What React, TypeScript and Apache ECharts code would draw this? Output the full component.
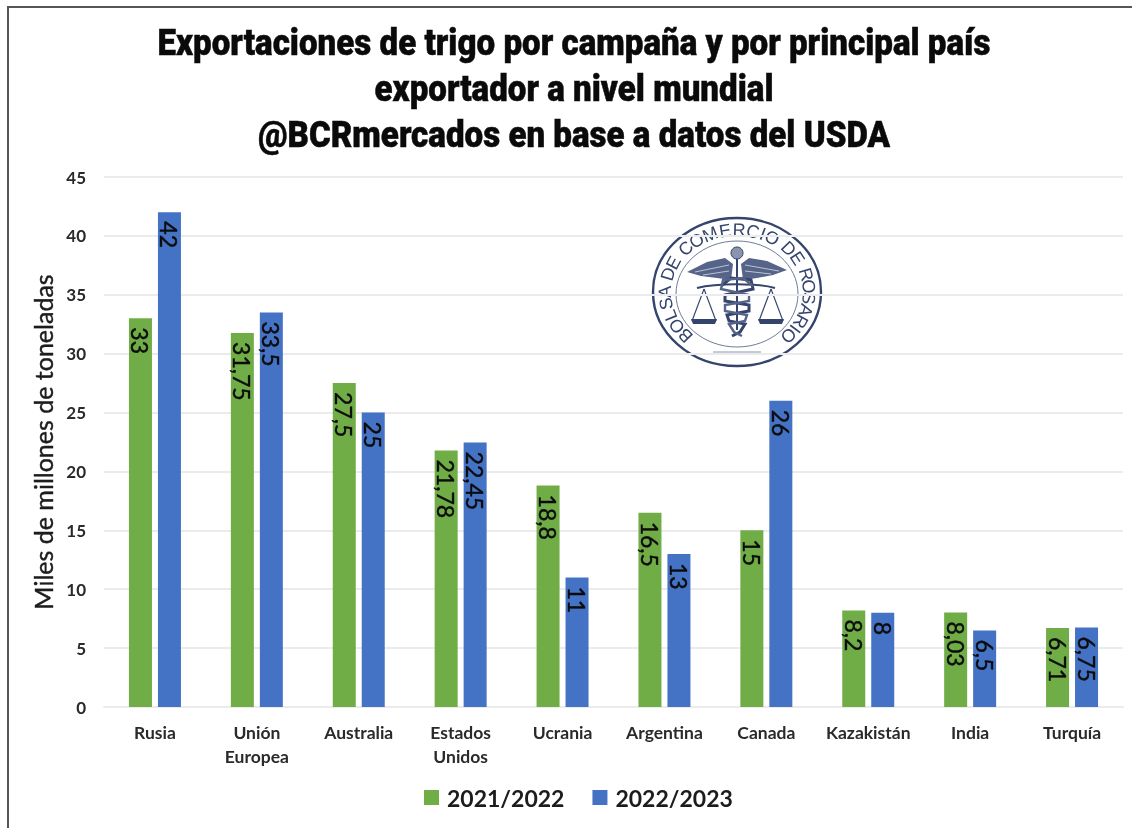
import React, { useEffect, useRef } from "react";
import * as echarts from "echarts";

const categories = ["Rusia", "Unión\nEuropea", "Australia", "Estados\nUnidos", "Ucrania", "Argentina", "Canada", "Kazakistán", "India", "Turquía"];
const series2122 = [33, 31.75, 27.5, 21.78, 18.8, 16.5, 15, 8.2, 8.03, 6.71];
const series2223 = [42, 33.5, 25, 22.45, 11, 13, 26, 8, 6.5, 6.75];
const titleLines = [
  "Exportaciones de trigo por campaña y por principal país",
  "exportador a nivel mundial",
  "@BCRmercados en base a datos del USDA",
];
const yAxisName = "Miles de millones de toneladas";
const sealText = "BOLSA DE COMERCIO DE ROSARIO";

const NAVY = "#34446c";
const WING = "#56648a";

function logoElements(): any[] {
  const els: any[] = [];
  const ln = (x1: number, y1: number, x2: number, y2: number, w = 1, c = NAVY) =>
    els.push({ type: "line", shape: { x1, y1, x2, y2 }, style: { stroke: c, lineWidth: w } });
  const poly = (points: number[][], fill = NAVY) =>
    els.push({ type: "polygon", shape: { points }, style: { fill } });
  els.push({ type: "ellipse", shape: { cx: 0, cy: 0, rx: 84, ry: 74 }, style: { fill: "transparent", stroke: NAVY, lineWidth: 2.4 } });
  els.push({ type: "ellipse", shape: { cx: 0, cy: 2, rx: 61, ry: 53 }, style: { fill: "transparent", stroke: "#6f7b98", lineWidth: 1 } });
  const chars = sealText.split("");
  const adv = chars.map((c) => (c === "I" ? 0.45 : c === " " ? 0.5 : c === "M" ? 1.2 : 1));
  const total = adv.reduce((a, b) => a + b, 0);
  let run = 0;
  chars.forEach((ch, i) => {
    const mid = run + adv[i] / 2;
    run += adv[i];
    const t = ((-140 + (280 * mid) / total) * Math.PI) / 180;
    els.push({
      type: "text", x: 72 * Math.sin(t), y: -62 * Math.cos(t), rotation: -t,
      style: { text: ch, fill: NAVY, font: "18px 'Liberation Sans'", align: "center", verticalAlign: "middle" },
    });
  });
  // wings
  poly([[-50, -20], [-30, -30], [-12, -34], [-4, -28], [-6, -12], [-20, -14], [-36, -16]], WING);
  poly([[50, -22], [30, -31], [12, -34], [4, -28], [6, -12], [20, -14], [36, -17]], WING);
  [[-42, -20, -8, -27], [-34, -17, -8, -21], [42, -21, 8, -27], [34, -18, 8, -21]].forEach((l) => ln(l[0], l[1], l[2], l[3], 0.8, "#d6dae4"));
  // staff and ring
  ln(0, -40, 0, 38, 2);
  els.push({ type: "circle", shape: { cx: 0, cy: -39, r: 6 }, style: { fill: "#8a94ad", stroke: NAVY, lineWidth: 1 } });
  // balance beam
  els.push({ type: "bezierCurve", shape: { x1: -40, y1: -4, cpx1: -20, cpy1: -9, cpx2: 20, cpy2: -9, x2: 38, y2: -4 }, style: { stroke: NAVY, lineWidth: 2, fill: "none" } });
  // pans
  [-33, 34].forEach((c) => {
    ln(c, -3, c - 12, 29, 1.2);
    ln(c, -3, c + 12, 29, 1.2);
    poly([[c - 13, 27], [c + 13, 27], [c + 11, 32], [c - 11, 32]]);
  });
  // snake
  els.push({
    type: "polyline",
    shape: { points: [[-16, -6], [-6, -14], [14, -12], [16, -3], [-12, 3], [-12, 9], [12, 13], [12, 19], [-10, 23], [-8, 29], [8, 32], [3, 40], [-5, 44]] },
    style: { stroke: NAVY, lineWidth: 3, fill: "none" },
  });
  els.push({
    type: "polyline",
    shape: { points: [[16, -6], [6, -14], [-14, -12], [-16, -3], [12, 3], [12, 9], [-12, 13], [-12, 19], [10, 23], [8, 29], [-8, 32], [-3, 40], [5, 44]] },
    style: { stroke: WING, lineWidth: 2.4, fill: "none" },
  });
  ln(-24, 60, 24, 60, 1, "#8a94ad");
  return els;
}

export default function App() {
  const ref = useRef<HTMLDivElement>(null);
  useEffect(() => {
    const chart = echarts.init(ref.current!, undefined, { renderer: "svg" });
    const dataLabel = {
      show: true,
      position: "insideTop" as const,
      rotate: -90,
      align: "left" as const,
      verticalAlign: "middle" as const,
      distance: 9,
      color: "#0b0b0b",
      textBorderColor: "#0b0b0b",
      textBorderWidth: 0.4,
      fontFamily: "Lato",
      fontSize: 23,
      formatter: (p: any) => String(p.value).replace(".", ","),
    };
    const titleY = [42, 88, 134];
    chart.setOption({
      animation: false,
      backgroundColor: "#ffffff",
      grid: { left: 104, top: 177, width: 1019, height: 530, containLabel: false },
      legend: {
        left: 419,
        top: 781,
        itemWidth: 15,
        itemHeight: 15,
        itemGap: 28,
        icon: "rect",
        textStyle: { fontFamily: "Lato", fontWeight: "bold", fontSize: 23, color: "#1c1c1c", padding: [0, 0, 0, 3] },
        data: ["2021/2022", "2022/2023"],
      },
      xAxis: {
        type: "category",
        data: categories,
        axisTick: { show: false },
        axisLine: { lineStyle: { color: "#ebebeb", width: 2 } },
        axisLabel: { interval: 0, margin: 13, fontFamily: "Lato", fontWeight: "bold", fontSize: 17.5, lineHeight: 24, color: "#2a2a2a" },
      },
      yAxis: {
        type: "value",
        min: 0,
        max: 45,
        interval: 5,
        name: yAxisName,
        nameLocation: "middle",
        nameGap: 49,
        nameTextStyle: { fontFamily: "Lato", fontSize: 25, color: "#1c1c1c", textBorderColor: "#1c1c1c", textBorderWidth: 0.4 },
        axisLine: { show: false },
        axisTick: { show: false },
        axisLabel: { margin: 18, fontFamily: "Lato", fontWeight: "bold", fontSize: 17, color: "#2a2a2a" },
        splitLine: { lineStyle: { color: "#ebebeb", width: 2 } },
      },
      series: [
        { name: "2021/2022", type: "bar", data: series2122, barWidth: 23, barGap: "26%", itemStyle: { color: "#70ad47" }, label: dataLabel },
        { name: "2022/2023", type: "bar", data: series2223, barWidth: 23, itemStyle: { color: "#4472c4" }, label: dataLabel },
      ],
      graphic: [
        { type: "rect", shape: { x: 7, y: 6, width: 1125, height: 2 }, style: { fill: "#555555" }, silent: true },
        { type: "rect", shape: { x: 7, y: 6, width: 2, height: 822 }, style: { fill: "#555555" }, silent: true },
        ...titleLines.map((t, i) => ({
          type: "text",
          x: 574,
          y: titleY[i],
          scaleX: 0.895,
          silent: true,
          style: {
            text: t,
            font: "900 37px Roboto",
            fill: "#0a0a0a",
            stroke: "#0a0a0a",
            lineWidth: 0.5,
            align: "center",
            verticalAlign: "middle",
          },
        })),
        { type: "group", x: 737, y: 292, silent: true, children: logoElements() },
      ],
    });
    return () => chart.dispose();
  }, []);
  return (
    <div
      ref={ref}
      style={{ position: "absolute", left: 0, top: 0, width: 1132, height: 828, filter: "blur(0.5px)" }}
    />
  );
}
